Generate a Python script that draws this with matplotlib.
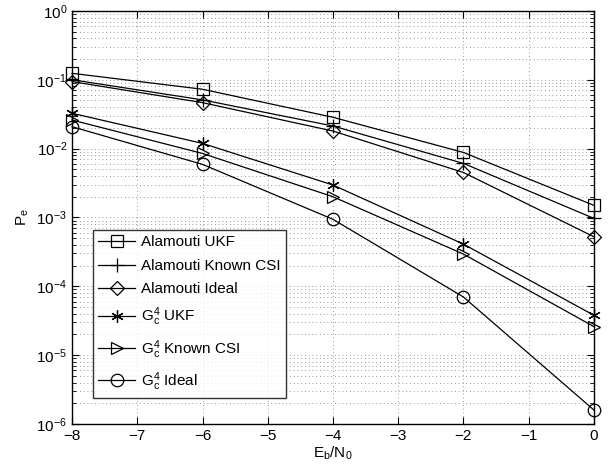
import matplotlib
matplotlib.use("Agg")
import matplotlib.pyplot as plt
from matplotlib.ticker import LogLocator, MultipleLocator

plt.rcParams['font.family'] = ['Liberation Sans', 'DejaVu Sans']
plt.rcParams['mathtext.fontset'] = 'custom'
plt.rcParams['mathtext.rm'] = 'Liberation Sans'
plt.rcParams['mathtext.it'] = 'Liberation Sans'
plt.rcParams['mathtext.default'] = 'regular'

snr = [-8, -6, -4, -2, 0]
alamouti_ukf = [0.124, 0.0728, 0.0285, 0.0088, 0.0015]
alamouti_known = [0.100, 0.051, 0.0213, 0.0061, 0.00097]
alamouti_ideal = [0.094, 0.0465, 0.018, 0.0045, 0.000525]
g4_ukf = [0.0326, 0.0119, 0.00296, 0.00041, 3.8e-5]
g4_known = [0.026, 0.0085, 0.0020, 0.000294, 2.6e-5]
g4_ideal = [0.0208, 0.0059, 0.00094, 7.0e-5, 1.6e-6]

labels = ['Alamouti UKF', 'Alamouti Known CSI', 'Alamouti Ideal',
          r'$G_c^4$ UKF', r'$G_c^4$ Known CSI', r'$G_c^4$ Ideal']
series = [alamouti_ukf, alamouti_known, alamouti_ideal, g4_ukf, g4_known, g4_ideal]
markers = ['s', '+', 'D', '*', '>', 'o']
msizes = [8, 10, 7, 9, 9, 9]

fig = plt.figure(figsize=(6.16, 4.74), dpi=100)
ax = fig.add_axes([0.117, 0.1055, 0.847, 0.8715])

for y, lab, m, ms in zip(series, labels, markers, msizes):
    kw = dict(markerfacecolor='none', markeredgecolor='black')
    if m == '*':
        m = (6, 2, 0)
    ax.semilogy(snr, y, color='black', linewidth=0.9, marker=m, markersize=ms,
                markeredgewidth=0.9, label=lab, clip_on=False, zorder=3, **kw)

ax.set_xlim(-8, 0)
ax.set_ylim(1e-6, 1)
ax.xaxis.set_major_locator(MultipleLocator(1))
ax.yaxis.set_major_locator(LogLocator(base=10, numticks=10))
ax.yaxis.set_minor_locator(LogLocator(base=10, subs=range(2, 10), numticks=10))
grid_ls = (0, (1, 3.5))
ax.grid(True, which='major', linestyle=grid_ls, color='#777777', linewidth=0.6)
ax.grid(True, which='minor', axis='y', linestyle=grid_ls, color='#777777', linewidth=0.6)
ax.tick_params(which='both', direction='in', top=True, right=True, labelsize=11)
ax.tick_params(which='major', length=5)
ax.tick_params(which='minor', length=3)
for s in ax.spines.values():
    s.set_linewidth(1.0)

ax.set_xlabel(r'$E_b/N_0$', fontsize=11, labelpad=1)
ax.set_ylabel(r'$P_e$', fontsize=11)

leg = ax.legend(loc='lower left', bbox_to_anchor=(0.04, 0.063), fontsize=11,
                frameon=True, fancybox=False, edgecolor='black',
                labelspacing=0.62, handlelength=2.4, handletextpad=0.4,
                borderpad=0.35, borderaxespad=0.0)
leg.get_frame().set_linewidth(1.0)
leg.set_zorder(5)

fig.savefig('out.png', dpi=100)
